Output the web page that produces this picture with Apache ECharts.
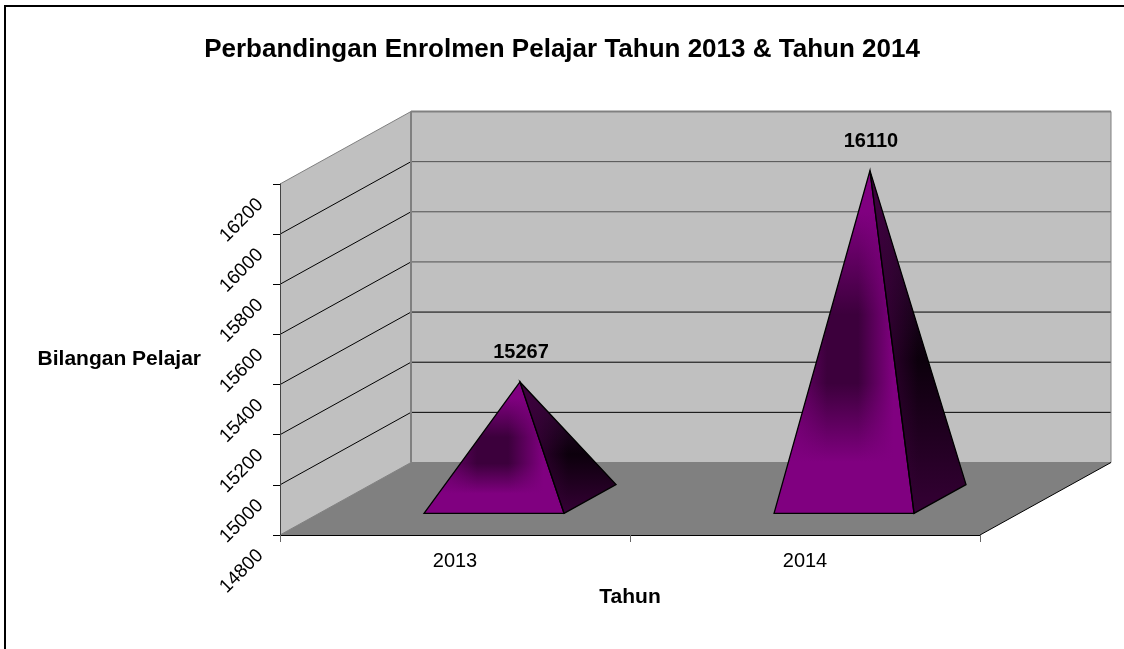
<!DOCTYPE html>
<html>
<head>
<meta charset="utf-8">
<style>
  html, body { margin: 0; padding: 0; background: #fff; }
  #chart { width: 1124px; height: 649px; }
</style>
<script src="https://cdn.jsdelivr.net/npm/echarts@6/dist/echarts.min.js"></script>
</head>
<body>
<div id="chart"></div>
<script>
const categories = ['2013', '2014']
const enrolment = [15267, 16110]
const wallTicks = [14800, 15000, 15200, 15400, 15600, 15800, 16000, 16200]

// 3d look: how far the back wall sits from the axis plane
const depthX = 131
const depthY = -72.5
const fontFamily = '"Liberation Sans", Arial, sans-serif'

const chart = echarts.init(document.getElementById('chart'))

function poly (points, style, z2) {
  return { type: 'polygon', shape: { points }, style, z2 }
}

function seg (x1, y1, x2, y2, stroke, lineWidth, z2) {
  return { type: 'line', shape: { x1, y1, x2, y2 }, style: { stroke, lineWidth: lineWidth || 1 }, z2 }
}

// back wall, side wall and floor
function renderWalls (params, api) {
  const rect = params.coordSys
  const left = rect.x
  const right = rect.x + rect.width
  const top = rect.y
  const bottom = rect.y + rect.height
  const children = [
    poly([[left, top], [left + depthX, top + depthY], [left + depthX, bottom + depthY], [left, bottom]], { fill: '#c0c0c0' }, 1),
    poly([[left + depthX, top + depthY], [right + depthX, top + depthY], [right + depthX, bottom + depthY], [left + depthX, bottom + depthY]], { fill: '#c0c0c0' }, 1),
    poly([[left, bottom], [left + depthX, bottom + depthY], [right + depthX, bottom + depthY], [right, bottom]], { fill: '#808080' }, 2)
  ]
  wallTicks.forEach(tick => {
    const y = api.coord([0, tick])[1]
    if (tick > 14800 && tick < 16200) {
      children.push(seg(left, y, left + depthX, y + depthY, '#000', 1, 3))
      children.push(seg(left + depthX, y + depthY, right + depthX, y + depthY, tick >= 15600 ? '#505050' : '#000', 1, 3))
    }
  })
  // grey edges of the walls
  children.push(seg(left, top, left + depthX, top + depthY, '#808080', 1, 4))
  children.push(seg(left + depthX, top + depthY, right + depthX, top + depthY, '#808080', 2, 4))
  children.push(seg(left + depthX, top + depthY, left + depthX, bottom + depthY, '#808080', 2, 4))
  children.push(seg(right + depthX, top + depthY, right + depthX, bottom + depthY, '#808080', 1, 4))
  children.push(seg(left, bottom, left + depthX, bottom + depthY, '#808080', 1, 4))
  children.push(seg(left + depthX, bottom + depthY, right + depthX, bottom + depthY, '#808080', 1, 4))
  children.push(seg(right, bottom, right + depthX, bottom + depthY, '#000', 1, 4))
  return { type: 'group', children }
}

function renderPyramid (params, api) {
  const center = api.coord([api.value(0), 14800])
  const tipY = api.coord([api.value(0), api.value(1)])[1]
  const halfWidth = api.size([1, 0])[0] * 0.2
  const frontX = center[0] + depthX * 0.298
  const frontY = center[1] + depthY * 0.298

  const frontLeft = [frontX - halfWidth, frontY]
  const frontRight = [frontX + halfWidth, frontY]
  const backRight = [frontRight[0] + depthX * 0.397, frontY + depthY * 0.397]
  const tip = [frontX + depthX * 0.198, tipY + depthY * 0.496]

  const front = [frontLeft, frontRight, tip]
  const side = [frontRight, backRight, tip]

  const frontShade = new echarts.graphic.LinearGradient(0, 0, 0, 1, [
    { offset: 0, color: '#800080' },
    { offset: 0.12, color: '#800080' },
    { offset: 0.42, color: '#3c003c' },
    { offset: 0.62, color: '#3c003c' },
    { offset: 0.85, color: '#800080' },
    { offset: 1, color: '#800080' }
  ])
  const frontEdge = new echarts.graphic.LinearGradient(0, 0, 1, 0, [
    { offset: 0.08, color: 'rgba(128, 0, 128, 0.9)' },
    { offset: 0.38, color: 'rgba(128, 0, 128, 0)' },
    { offset: 0.6, color: 'rgba(128, 0, 128, 0)' },
    { offset: 0.85, color: 'rgba(128, 0, 128, 1)' }
  ])
  const sideShade = new echarts.graphic.LinearGradient(0, 0, 0, 1, [
    { offset: 0, color: '#3a0a40' },
    { offset: 0.55, color: '#0c000c' },
    { offset: 1, color: '#350035' }
  ])
  const sideEdge = new echarts.graphic.LinearGradient(0, 0, 1, 0, [
    { offset: 0.1, color: 'rgba(60, 0, 60, 0.9)' },
    { offset: 0.5, color: 'rgba(60, 0, 60, 0)' }
  ])

  return {
    type: 'group',
    children: [
      poly(front, { fill: frontShade }, 5),
      poly(front, { fill: frontEdge, stroke: '#000', lineWidth: 1.3 }, 6),
      poly(side, { fill: sideShade }, 5),
      poly(side, { fill: sideEdge, stroke: '#000', lineWidth: 1.3 }, 6),
      {
        type: 'text',
        z2: 7,
        style: {
          text: String(api.value(1)),
          x: tip[0] + 1,
          y: tip[1] - 29,
          align: 'center',
          verticalAlign: 'middle',
          fill: '#000',
          font: 'bold 20px ' + fontFamily
        }
      }
    ]
  }
}

chart.setOption({
  animation: false,
  backgroundColor: '#fff',
  textStyle: { fontFamily },
  title: {
    text: 'Perbandingan Enrolmen Pelajar Tahun 2013 & Tahun 2014',
    left: 'center',
    top: 32,
    textStyle: { fontSize: 26, fontWeight: 'bold', color: '#000', fontFamily }
  },
  graphic: [
    { type: 'line', shape: { x1: 4, y1: 6, x2: 1124, y2: 6 }, style: { stroke: '#000', lineWidth: 2 } },
    { type: 'line', shape: { x1: 5, y1: 5, x2: 5, y2: 649 }, style: { stroke: '#000', lineWidth: 2 } }
  ],
  grid: { left: 280, right: 144, top: 184, bottom: 114, outerBoundsMode: 'none' },
  xAxis: {
    type: 'category',
    data: categories,
    z: 3,
    name: 'Tahun',
    nameLocation: 'middle',
    nameGap: 52,
    nameTextStyle: { fontSize: 21, fontWeight: 'bold', color: '#000', fontFamily },
    axisLine: { lineStyle: { color: '#000', width: 1 } },
    axisTick: { show: true, length: 7, lineStyle: { color: '#666' } },
    axisLabel: { color: '#000', fontSize: 20, margin: 16, fontFamily }
  },
  yAxis: {
    type: 'value',
    min: 14800,
    max: 16200,
    interval: 200,
    z: 3,
    name: 'Bilangan Pelajar',
    nameLocation: 'middle',
    nameRotate: 0,
    nameGap: 79,
    nameTextStyle: { fontSize: 21, fontWeight: 'bold', color: '#000', fontFamily },
    axisLine: { show: true, lineStyle: { color: '#444', width: 1 } },
    axisTick: { show: true, length: 7, lineStyle: { color: '#000' } },
    splitLine: { show: false },
    axisLabel: { color: '#000', fontSize: 19, rotate: 45, margin: 2, padding: [0, 25, 0, 0], fontFamily, formatter: v => String(v) }
  },
  series: [
    {
      type: 'custom',
      z: 1,
      silent: true,
      clip: false,
      data: [[0, 14800]],
      encode: { x: 0, y: 1 },
      renderItem: renderWalls
    },
    {
      type: 'custom',
      z: 2,
      clip: false,
      data: categories.map((c, i) => [i, enrolment[i]]),
      encode: { x: 0, y: 1 },
      renderItem: renderPyramid
    }
  ]
})
</script>
</body>
</html>
